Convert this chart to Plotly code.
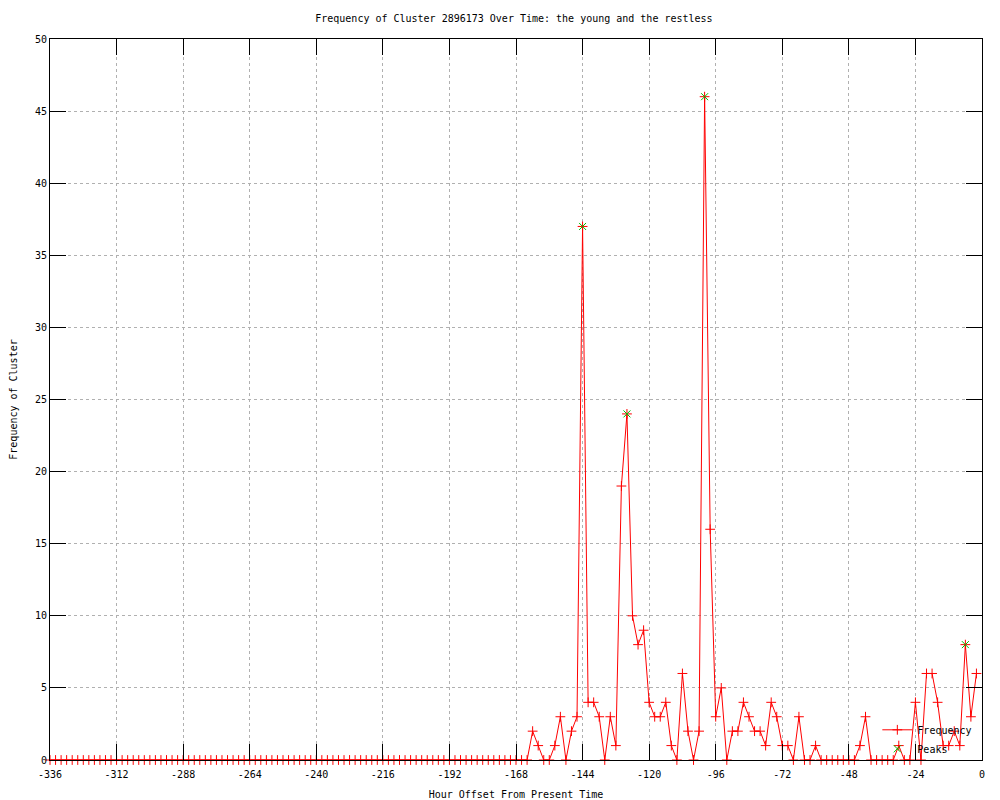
import plotly.graph_objects as go

# Hour offsets (every 2 hours) from -336 to -2
hours = list(range(-336, 0, 2))

# Frequency values
freq_early = [0, 0, 0, 0, 0, 0, 0, 0, 0, 0, 0, 0, 0, 0, 0, 0, 0, 0, 0, 0, 0,
              0, 0, 0, 0, 0, 0, 0, 0, 0, 0, 0, 0, 0, 0, 0, 0, 0, 0, 0, 0, 0,
              0, 0, 0, 0, 0, 0, 0, 0, 0, 0, 0, 0, 0, 0, 0, 0, 0, 0, 0, 0, 0,
              0, 0, 0, 0, 0, 0, 0, 0, 0, 0, 0, 0, 0, 0, 0, 0, 0, 0, 0, 0, 0]
freq_late = [0, 0, 0, 2, 1, 0, 0, 1, 3, 0, 2, 3, 37, 4, 4, 3, 0, 3, 1, 19, 24,
             10, 8, 9, 4, 3, 3, 4, 1, 0, 6, 2, 0, 2, 46, 16, 3, 5, 0, 2, 2, 4,
             3, 2, 2, 1, 4, 3, 1, 1, 0, 3, 0, 0, 1, 0, 0, 0, 0, 0, 0, 0, 1, 3,
             0, 0, 0, 0, 0, 1, 0, 0, 4, 0, 6, 6, 4, 1, 1, 2, 1, 8, 3, 6]
frequency = freq_early + freq_late

# Peaks
peak_hours = [-144, -128, -100, -6]
peak_values = [37, 24, 46, 8]

x_tick_vals = [-336, -312, -288, -264, -240, -216, -192, -168, -144, -120, -96, -72, -48, -24, 0]
x_tick_text = ["-336", "-312", "-288", "-264", "-240", "-216", "-192", "-168",
               "-144", "-120", "-96", "-72", "-48", "-24", "0"]
y_tick_vals = [0, 5, 10, 15, 20, 25, 30, 35, 40, 45, 50]

FONT = "DejaVu Sans Mono"

fig = go.Figure()
fig.add_trace(go.Scatter(
    x=hours, y=frequency, mode="lines+markers", name="Frequency",
    line=dict(color="#ff0000", width=1),
    marker=dict(symbol="cross-thin-open", size=7, color="#ff0000",
                line=dict(color="#ff0000", width=1)),
    cliponaxis=False,
))
fig.add_trace(go.Scatter(
    x=peak_hours, y=peak_values, mode="markers", name="Peaks",
    marker=dict(symbol="x-thin-open", size=7, color="#00c000",
                line=dict(color="#00c000", width=1)),
    cliponaxis=False,
))

axis_common = dict(
    showline=True, linecolor="black", linewidth=1, mirror="allticks",
    ticks="inside", ticklen=16, tickcolor="black", tickwidth=1,
    showgrid=True, gridcolor="#b0b0b0", gridwidth=1, griddash="dot",
    zeroline=False, layer="above traces", automargin=False,
    tickfont=dict(family=FONT, size=10, color="black"),
)

# The page body has an 8px margin, so the figure is sized to fit the window.
fig.update_layout(
    width=992, height=792,
    margin=dict(l=42, r=18, t=31, b=40),
    paper_bgcolor="white", plot_bgcolor="white",
    title=dict(text="Frequency of Cluster 2896173 Over Time: the young and the restless",
               x=0.510, xanchor="center", y=0.9865, yanchor="middle",
               font=dict(family=FONT, size=10, color="black")),
    xaxis=dict(range=[-336, 0], tickvals=x_tick_vals, ticktext=x_tick_text,
               ticklabelstandoff=5,
               title=dict(text="Hour Offset From Present Time", standoff=12,
                          font=dict(family=FONT, size=10, color="black")),
               **axis_common),
    yaxis=dict(range=[0, 50], tickvals=y_tick_vals,
               title=dict(text="Frequency of Cluster", standoff=17,
                          font=dict(family=FONT, size=10, color="black")),
               **axis_common),
    showlegend=True,
    legend=dict(x=0.995, xanchor="right", y=0.062, yanchor="top",
                bgcolor="rgba(0,0,0,0)", borderwidth=0,
                font=dict(family=FONT, size=10, color="black"),
                tracegroupgap=0, itemwidth=30),
)

fig.write_html("out.html")
